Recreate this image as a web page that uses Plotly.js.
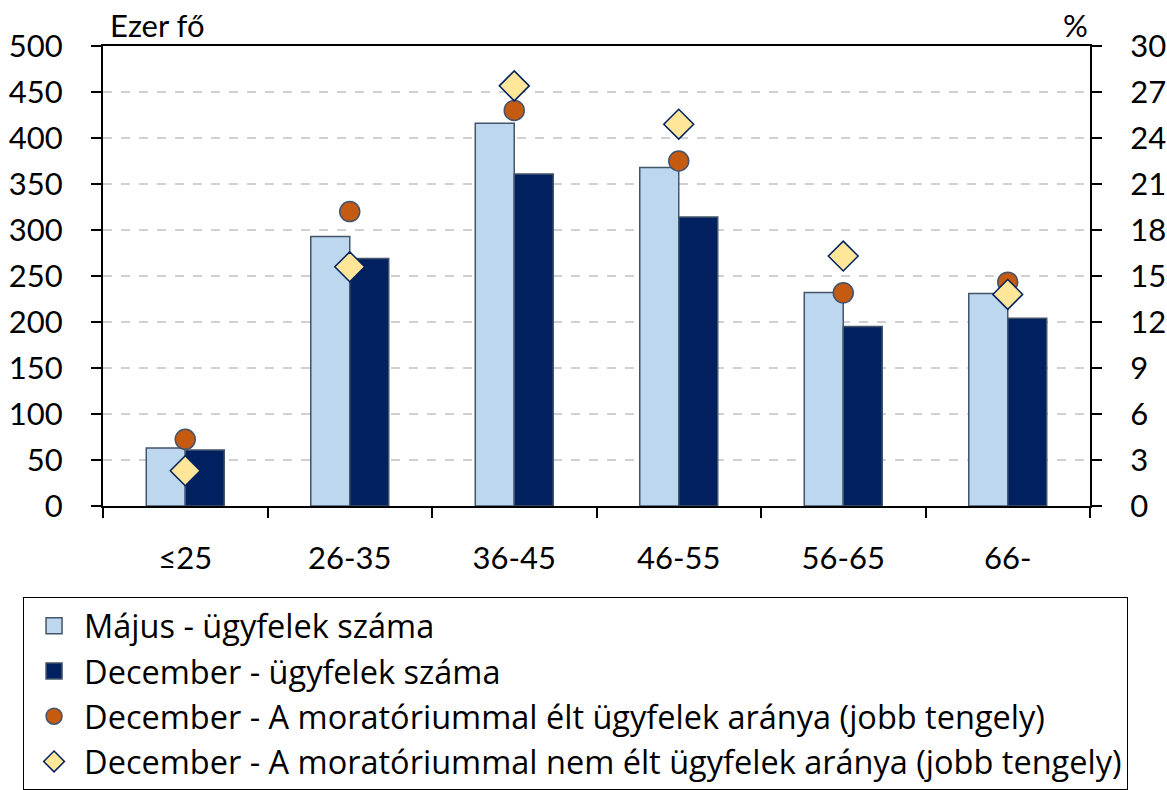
<!DOCTYPE html>
<html>
<head>
<meta charset="utf-8">
<script src="https://cdn.plot.ly/plotly-3.0.1.min.js"></script>
<style>html,body{margin:0;padding:0;background:#fff;}#chart{width:1167px;height:790px;}</style>
</head>
<body>
<div id="chart"></div>
<script>
var categories = ['≤25', '26-35', '36-45', '46-55', '56-65', '66-'];
var majusCount = [63, 293, 416, 368, 232, 231];
var decemberCount = [61, 269, 361, 314, 195, 204];
var decWithMoratorium = [4.35, 19.2, 25.8, 22.5, 13.9, 14.6];
var decWithoutMoratorium = [2.3, 15.6, 27.4, 24.9, 16.3, 13.8];
var leftTicks = [0, 50, 100, 150, 200, 250, 300, 350, 400, 450, 500];
var rightTicks = [0, 3, 6, 9, 12, 15, 18, 21, 24, 27, 30];
var seriesNames = ['Május - ügyfelek száma', 'December - ügyfelek száma',
  'December - A moratóriummal élt ügyfelek aránya (jobb tengely)',
  'December - A moratóriummal nem élt ügyfelek aránya (jobb tengely)'];

var FONT = 'Lato, "Noto Sans", sans-serif';
var LFONT = '"Open Sans", "Noto Sans", sans-serif';

var lightStyle = {color: '#BDD7EE', line: {color: '#44546A', width: 1.5}};
var darkStyle = {color: '#002060', line: {color: '#44546A', width: 1.5}};

var traces = [
  {type: 'bar', name: seriesNames[0], x: categories, y: majusCount, marker: lightStyle, showlegend: false, legendgroup: 'a'},
  {type: 'bar', name: seriesNames[1], x: categories, y: decemberCount, marker: darkStyle, showlegend: false, legendgroup: 'b'},
  // legend-only entries with larger square swatches
  {type: 'scatter', mode: 'markers', name: seriesNames[0], x: [categories[0]], y: [null], legendgroup: 'a',
   marker: {symbol: 'square', size: 20, color: lightStyle.color, line: lightStyle.line}, hoverinfo: 'skip'},
  {type: 'scatter', mode: 'markers', name: seriesNames[1], x: [categories[0]], y: [null], legendgroup: 'b',
   marker: {symbol: 'square', size: 20, color: darkStyle.color, line: darkStyle.line}, hoverinfo: 'skip'},
  {type: 'scatter', mode: 'markers', name: seriesNames[2],
   x: categories, y: decWithMoratorium, yaxis: 'y2',
   marker: {symbol: 'circle', size: 20, color: '#C55A11', line: {color: '#44546A', width: 1.5}}},
  {type: 'scatter', mode: 'markers', name: seriesNames[3],
   x: categories, y: decWithoutMoratorium, yaxis: 'y2',
   marker: {symbol: 'diamond', size: 23, color: '#FFE699', line: {color: '#002060', width: 1.5}}}
];

var layout = {
  width: 1167, height: 790,
  margin: {l: 103, r: 77, t: 46, b: 284, autoexpand: false},
  paper_bgcolor: '#fff', plot_bgcolor: '#fff',
  font: {family: FONT, size: 31, color: '#000'},
  barmode: 'group', bargap: 0.526, bargroupgap: 0,
  showlegend: true,
  xaxis: {
    type: 'category', showline: true, linecolor: '#000', linewidth: 2, mirror: true,
    ticks: 'outside', ticklen: 10, tickwidth: 2, tickcolor: '#000', tickson: 'boundaries',
    ticklabelstandoff: 24, showgrid: false, zeroline: false, automargin: false,
    tickfont: {family: FONT, size: 31}
  },
  yaxis: {
    range: [0, 500], tickvals: leftTicks, ticktext: leftTicks.map(String),
    showline: true, linecolor: '#000', linewidth: 2, automargin: false,
    ticks: 'outside', ticklen: 10, tickwidth: 2, tickcolor: '#000',
    ticklabelstandoff: 22,
    showgrid: true, gridcolor: '#D0D0D0', griddash: 'dash', gridwidth: 1.5, zeroline: false,
    tickfont: {family: FONT, size: 31}
  },
  yaxis2: {
    range: [0, 30], tickvals: rightTicks, ticktext: rightTicks.map(String),
    overlaying: 'y', side: 'right', automargin: false,
    showline: true, linecolor: '#000', linewidth: 2,
    ticks: 'outside', ticklen: 10, tickwidth: 2, tickcolor: '#000',
    ticklabelstandoff: 22,
    showgrid: false, zeroline: false,
    tickfont: {family: FONT, size: 31}
  },
  legend: {
    x: -0.081, xanchor: 'left', y: -0.198, yanchor: 'top',
    bordercolor: '#000', borderwidth: 1, bgcolor: '#fff',
    itemwidth: 50,
    font: {family: LFONT, size: 32.5}, tracegroupgap: 0, traceorder: 'normal'
  },
  annotations: [
    {xref: 'paper', yref: 'paper', x: 0.005, y: 1, xanchor: 'left', yanchor: 'bottom',
     text: 'Ezer fő', showarrow: false, font: {family: FONT, size: 31}},
    {xref: 'paper', yref: 'paper', x: 1, y: 1, xanchor: 'right', yanchor: 'bottom',
     text: '%', showarrow: false, font: {family: FONT, size: 31}}
  ]
};

Plotly.newPlot('chart', traces, layout, {displayModeBar: false});
</script>
</body>
</html>
